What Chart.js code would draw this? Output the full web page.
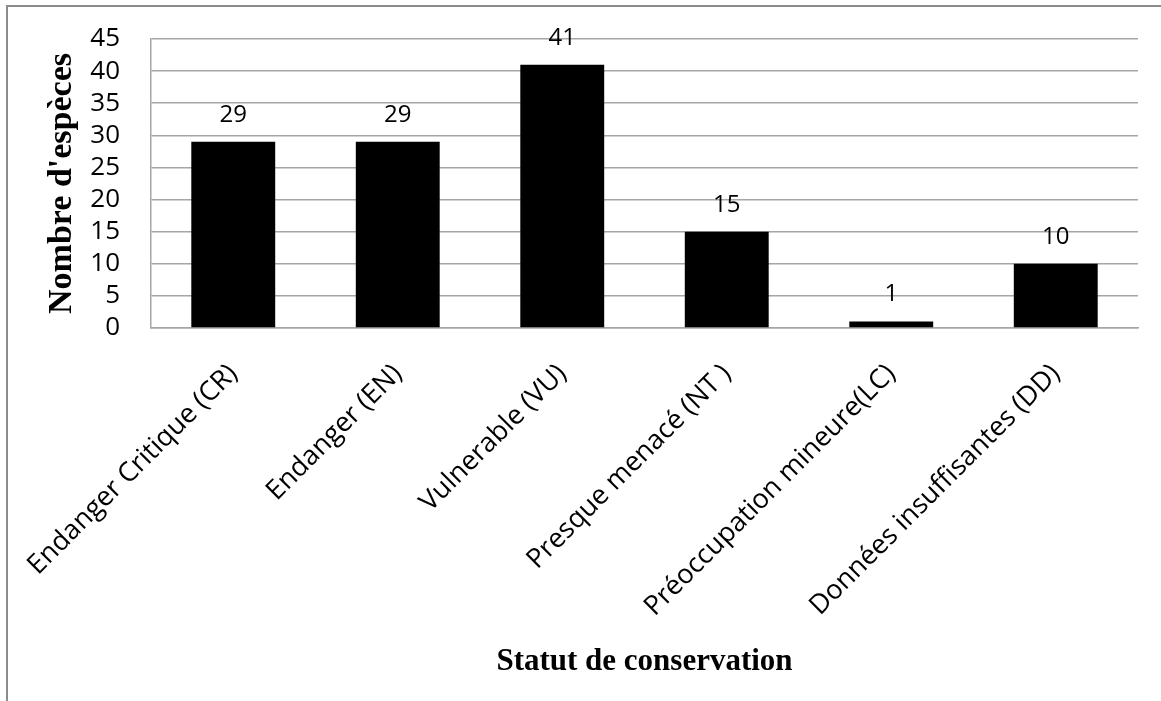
<!DOCTYPE html>
<html>
<head>
<meta charset="utf-8">
<script src="https://cdn.jsdelivr.net/npm/chart.js@4"></script>
<style>
  body { margin: 0; background: #fff; }
  #frame {
    position: absolute; left: 6px; top: 5px; width: 1200px; height: 800px;
    border-left: 2px solid #8c8c8c; border-top: 2px solid #8c8c8c;
  }
  #wrap { position: absolute; left: 0; top: 0; width: 1161px; height: 701px; }
</style>
</head>
<body>
<div id="frame"></div>
<div id="wrap"><canvas id="chart"></canvas></div>
<script>
const categories = [
  "Endanger Critique (CR)",
  "Endanger (EN)",
  "Vulnerable (VU)",
  "Presque menacé (NT )",
  "Préoccupation mineure(LC)",
  "Données insuffisantes (DD)"
];
const speciesCount = [29, 29, 41, 15, 1, 10];

const yTitle = "Nombre d'espèces";
const xTitle = "Statut de conservation";

// value labels above each bar
const valueLabels = {
  id: 'valueLabels',
  afterDatasetsDraw(chart) {
    const ctx = chart.ctx;
    const meta = chart.getDatasetMeta(0);
    ctx.save();
    ctx.font = '24px "Open Sans"';
    ctx.fillStyle = '#000';
    ctx.textAlign = 'center';
    ctx.textBaseline = 'middle';
    meta.data.forEach((bar, i) => {
      ctx.fillText(speciesCount[i], bar.x, bar.y - 27);
    });
    ctx.restore();
  }
};

new Chart(document.getElementById('chart').getContext('2d'), {
  type: 'bar',
  data: {
    labels: categories,
    datasets: [{
      data: speciesCount,
      backgroundColor: '#000',
      borderWidth: 0,
      categoryPercentage: 1,
      barPercentage: 0.51
    }]
  },
  options: {
    responsive: true,
    maintainAspectRatio: false,
    animation: false,
    layout: { padding: { left: 42, right: 23, top: 39, bottom: 20 } },
    plugins: {
      legend: { display: false },
      tooltip: { enabled: false }
    },
    scales: {
      x: {
        grid: { display: false, drawTicks: true, tickLength: 30, tickColor: 'rgba(0,0,0,0)' },
        border: { display: true, color: '#a6a6a6', width: 1.5 },
        ticks: {
          color: '#000',
          font: { family: 'Open Sans', size: 27 },
          maxRotation: 45,
          minRotation: 45,
          padding: 0,
          autoSkip: false
        },
        title: {
          display: true,
          text: xTitle,
          color: '#000',
          font: { family: 'Liberation Serif', size: 31, weight: 'bold' },
          padding: 0
        },
        afterFit(scale) { scale.height = 353; }
      },
      y: {
        min: 0,
        max: 45,
        grid: { color: '#a6a6a6', lineWidth: 1.5, drawTicks: true, tickLength: 31, tickColor: 'rgba(0,0,0,0)' },
        border: { display: true, color: '#a6a6a6', width: 1.5 },
        ticks: {
          stepSize: 5,
          autoSkip: false,
          color: '#000',
          font: { family: 'Open Sans', size: 26 },
          padding: 0
        },
        title: {
          display: true,
          text: yTitle,
          color: '#000',
          font: { family: 'Liberation Serif', size: 34, weight: 'bold' },
          padding: 0
        },
        afterFit(scale) { scale.width = 109; }
      }
    }
  },
  plugins: [valueLabels]
});
</script>
</body>
</html>
